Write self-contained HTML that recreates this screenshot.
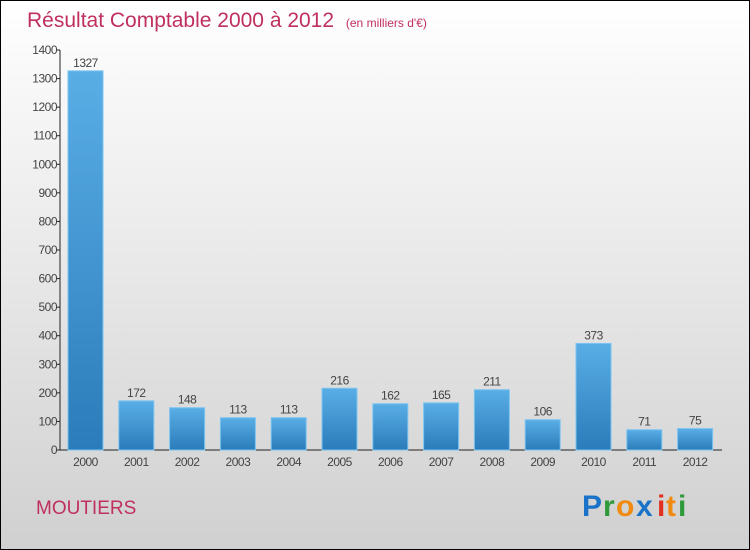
<!DOCTYPE html>
<html><head><meta charset="utf-8"><style>
body{margin:0;}
#c{width:750px;height:550px;position:relative;overflow:hidden;font-family:"Liberation Sans",sans-serif;}
</style></head><body>
<div id="c">
<svg id="s" width="750" height="550" xmlns="http://www.w3.org/2000/svg">
<defs>
<linearGradient id="bg" x1="0" y1="0" x2="0" y2="1"><stop offset="0" stop-color="#ffffff"/><stop offset="1" stop-color="#d0d0d0"/></linearGradient>
<linearGradient id="bar" x1="0" y1="0" x2="0" y2="1"><stop offset="0" stop-color="#5aaee6"/><stop offset="1" stop-color="#2a7cba"/></linearGradient>
</defs>
<rect x="0.5" y="0.5" width="749" height="549" fill="url(#bg)" stroke="#000"/>
<text x="27" y="27" font-size="21" fill="#c0305e">Résultat Comptable 2000 à 2012 <tspan font-size="12" dx="6">(en milliers d'€)</tspan></text>
<g id="axes"></g><g id="bars"></g>
<text x="36" y="514" font-size="19" fill="#c0305e">MOUTIERS</text>
<g font-size="30" font-weight="bold">
<text x="582" y="516" fill="#1a73c8">P</text><text x="603" y="516" fill="#2e9a3a">r</text><text x="616" y="516" fill="#f08a10">o</text><text x="636" y="516" fill="#1a73c8">x</text><text x="657" y="516" fill="#e03020">i</text><text x="666" y="516" fill="#f08a10">t</text><text x="678" y="516" fill="#2e9a3a">i</text>
</g>
</svg></div>
<script>
const categories=["2000","2001","2002","2003","2004","2005","2006","2007","2008","2009","2010","2011","2012"];
const values=[1327,172,148,113,113,216,162,165,211,106,373,71,75];
const ticks=[0,100,200,300,400,500,600,700,800,900,1000,1100,1200,1300,1400];
const NS="http://www.w3.org/2000/svg";
const y0=450,yTop=50,yMax=1400,x0=60,step=50.8,first=85.5,bw=35;
const y=v=>y0-(v/yMax)*(y0-yTop);
const x=i=>first+i*step;
function mk(t,a,p){const e=document.createElementNS(NS,t);for(const k in a)e.setAttribute(k,a[k]);p.appendChild(e);return e;}
const ax=document.getElementById('axes'),bs=document.getElementById('bars');
const yl=mk('line',{x1:x0,y1:yTop,x2:x0,y2:y0,stroke:'#222'},ax);


const xl=mk('line',{x1:x0,y1:y0,x2:722,y2:y0,stroke:'#222'},ax);


ticks.forEach(t=>{
 mk('line',{x1:x0-3,y1:y(t),x2:x0,y2:y(t),stroke:'#222'},ax);
 const tx=mk('text',{x:x0-3,y:y(t)+4,'font-size':12,'text-anchor':'end',fill:'#444','letter-spacing':'-0.5'},ax);
 tx.textContent=t;
 
 
});
values.forEach((v,i)=>{
 const r=mk('rect',{x:x(i)-bw/2,y:y(v),width:bw,height:y0-y(v),fill:'url(#bar)',stroke:'#7cc4f0','stroke-width':1},bs);
 
 
 const lb=mk('text',{x:x(i),y:y(v)-4,'font-size':12,'text-anchor':'middle',fill:'#444','letter-spacing':'-0.5'},bs);
 lb.textContent=v;
 
 
 const cl=mk('text',{x:x(i),y:466,'font-size':12,'text-anchor':'middle',fill:'#444','letter-spacing':'-0.5'},bs);
 cl.textContent=categories[i];
 
 
});
</script>
</body></html>
